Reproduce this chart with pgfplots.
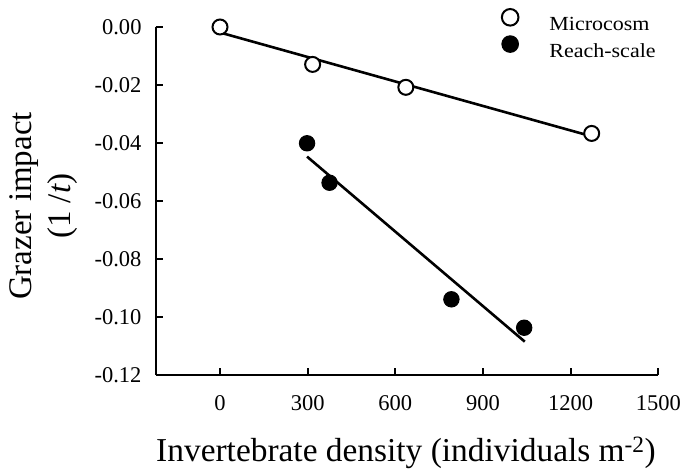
\documentclass[border=0pt]{standalone}
\usepackage{fontspec}
\setmainfont{Liberation Serif}
\newfontfamily\legfont[FakeStretch=1.1]{Liberation Serif}
\usepackage{pgfplots}
\pgfplotsset{compat=1.18}
\begin{document}
\begin{tikzpicture}
\useasboundingbox (0,0) rectangle (686bp,469bp);
\begin{axis}[
  at={(155.7bp,94bp)}, anchor=south west,
  width=502.6bp, height=348bp, scale only axis,
  xmin=-220, xmax=1500, ymin=-0.12, ymax=0,
  axis x line=bottom, axis y line=left,
  axis line style={-, line width=2bp, black},
  tick align=inside, major tick length=7bp,
  tick style={line width=2bp, black},
  xtick={0,300,600,900,1200,1500},
  xticklabels={0,300,600,900,1200,1500},
  ytick={-0.12,-0.1,-0.08,-0.06,-0.04,-0.02,0},
  yticklabels={-0.12,-0.10,-0.08,-0.06,-0.04,-0.02,0.00},
  ticklabel style={font=\fontsize{22.5bp}{27bp}\selectfont},
  xticklabel style={anchor=north, inner sep=0pt, yshift=-20bp},
  yticklabel style={anchor=east, inner sep=0pt, xshift=-14bp},
  xlabel={Invertebrate density (individuals m\textsuperscript{-2})},
  xlabel style={at={(axis description cs:0.498,-0.2486)}, anchor=base, inner sep=0pt,
    font=\fontsize{33.4bp}{40bp}\selectfont},
  ylabel={Grazer impact\\(1 /\textit{t})},
  ylabel style={at={(axis description cs:-0.2222,0.4856)}, anchor=center, align=center,
    inner sep=0pt, font=\fontsize{33bp}{39bp}\selectfont},
  clip=false,
  legend cell align=left,
  legend image code/.code={
    \draw[#1, mark size=8.3bp] plot coordinates {(0bp,7.7bp)};
    \path (-10bp,0bp) (39bp,0bp);
  },
  legend style={draw=none, fill=none, inner sep=0pt, outer sep=0pt,
    at={(axis description cs:0.685,1.0517)}, anchor=north west,
    font=\fontsize{20bp}{22bp}\legfont, row sep=3.4bp, column sep=0pt,
    nodes={inner sep=0pt}},
]
\addplot[line width=2.6bp, black, forget plot] coordinates {(0,-0.0019) (1272,-0.0377)};
\addplot[line width=2.6bp, black, forget plot] coordinates {(298,-0.0447) (1043,-0.1085)};
\addplot[only marks, mark=*, mark size=7.5bp,
  mark options={draw=black, fill=white, line width=2bp}]
  coordinates {(0,0) (317,-0.0129) (636,-0.0208) (1272,-0.0367)};
\addlegendentry{Microcosm}
\addplot[only marks, mark=*, mark size=7.7bp,
  mark options={draw=black, fill=black, line width=1bp}]
  coordinates {(298,-0.0401) (375,-0.0537) (792,-0.0939) (1041,-0.1037)};
\addlegendentry{Reach-scale}
\end{axis}
\end{tikzpicture}
\end{document}
